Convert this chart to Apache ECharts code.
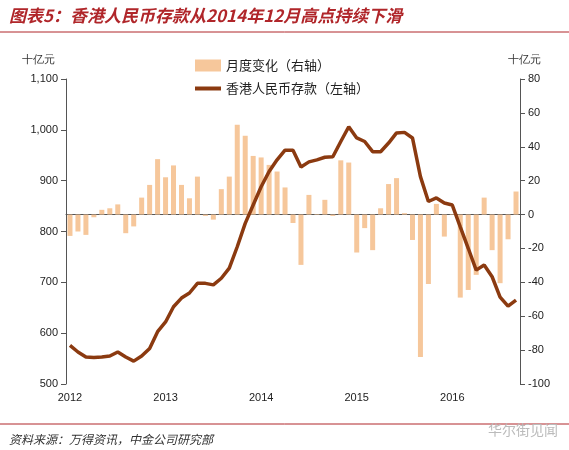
<!DOCTYPE html>
<html><head><meta charset="utf-8">
<script src="https://cdn.jsdelivr.net/npm/echarts@6/dist/echarts.min.js"></script>
<style>html,body{margin:0;background:#fff}#c{width:569px;height:450px}</style>
</head><body><div id="c"></div>
<script>
// 2012-01 .. 2016-09
const months = [];
for (let y = 2012; y <= 2016; y++) for (let m = 1; m <= 12; m++) if (months.length < 57) months.push(y + '-' + m);
const deposits = [576,563,553,552,553,555,563,553,545,555,570,603,622,652,669,679,698,698,695,708,728,770,816,852,
  888,918,941,960,960,927,937,941,946,947,977,1006,984,977,957,957,974,994,995,984,908,859,866,856,852,809,767,724,734,711,671,653,665];
const monthlyChange = [-12.6,-10,-12,-1.6,2.8,3.7,6,-11,-7,10,17.5,32.7,22,29,17.5,9.6,22.4,-0.8,-3,15,22.4,53,46.5,34.6,
  33.7,29.3,25.4,16,-5,-29.7,11.6,0.3,8.7,-0.8,32,30.7,-22.4,-8,-21,3.7,18,21.5,0.8,-15,-84,-41,6.3,-13,0.3,-49,-44.5,-35.6,10,-21,-40.5,-14.6,13.6];

const chart = echarts.init(document.getElementById('c'));
const font = 'Noto Sans CJK SC';
chart.setOption({
  animation: false,
  textStyle: { fontFamily: font },
  title: [
    { text: '图表5：香港人民币存款从2014年12月高点持续下滑', left: 4, top: 2,
      textStyle: { color: '#b0262a', fontSize: 17, fontStyle: 'italic', fontWeight: 'bold', fontFamily: font } },
    { text: '资料来源：万得资讯，中金公司研究部', left: 4, top: 428,
      textStyle: { color: '#333', fontSize: 12, fontStyle: 'italic', fontWeight: 'normal', fontFamily: font } },
    { text: '华尔街见闻', right: 6, top: 418,
      textStyle: { color: '#bbb', fontSize: 14, fontWeight: 'normal', fontFamily: font } }
  ],
  graphic: [
    { type: 'line', shape: { x1: 0, y1: 32, x2: 569, y2: 32 }, style: { stroke: '#b0262a', lineWidth: 1 } },
    { type: 'line', shape: { x1: 0, y1: 424, x2: 569, y2: 424 }, style: { stroke: '#b0262a', lineWidth: 1 } },
    { type: 'text', left: 22, top: 54, style: { text: '十亿元', fontSize: 11, fill: '#333', font: '11px ' + font } },
    { type: 'text', left: 508, top: 54, style: { text: '十亿元', fontSize: 11, fill: '#333', font: '11px ' + font } }
  ],
  legend: {
    orient: 'vertical', left: 190, top: 54, itemGap: 10, itemWidth: 26, itemHeight: 12,
    textStyle: { fontSize: 13, color: '#222', fontFamily: font },
    data: [{ name: '月度变化（右轴）', icon: 'rect' },
           { name: '香港人民币存款（左轴）', icon: 'path://M0,0H26V4H0Z' }]
  },
  grid: { left: 66, right: 49, top: 79, bottom: 66 },
  xAxis: {
    type: 'category', data: months, boundaryGap: true,
    axisLine: { lineStyle: { color: '#555' } },
    axisTick: { alignWithLabel: true, interval: (i) => i % 12 === 0, lineStyle: { color: '#555' } },
    axisLabel: { interval: (i) => i % 12 === 0, formatter: (v) => v.split('-')[0], color: '#222', fontSize: 11, fontFamily: 'Arial' }
  },
  yAxis: [
    { type: 'value', min: 500, max: 1100, interval: 100, splitLine: { show: false },
      axisLine: { show: true, lineStyle: { color: '#555' } }, axisTick: { show: true },
      axisLabel: { color: '#222', fontSize: 11, fontFamily: 'Arial', formatter: (v) => v.toLocaleString('en-US') } },
    { type: 'value', min: -100, max: 80, interval: 20, splitLine: { show: false },
      axisLine: { show: true, lineStyle: { color: '#555' } }, axisTick: { show: true },
      axisLabel: { color: '#222', fontSize: 11, fontFamily: 'Arial' } }
  ],
  series: [
    { name: '月度变化（右轴）', type: 'bar', yAxisIndex: 1, data: monthlyChange, barWidth: 5,
      itemStyle: { color: '#f6c79b' } },
    { name: '香港人民币存款（左轴）', type: 'line', yAxisIndex: 0, data: deposits, symbol: 'none',
      lineStyle: { color: '#8b3a10', width: 3.5 }, itemStyle: { color: '#8b3a10' } }
  ]
});
</script></body></html>
